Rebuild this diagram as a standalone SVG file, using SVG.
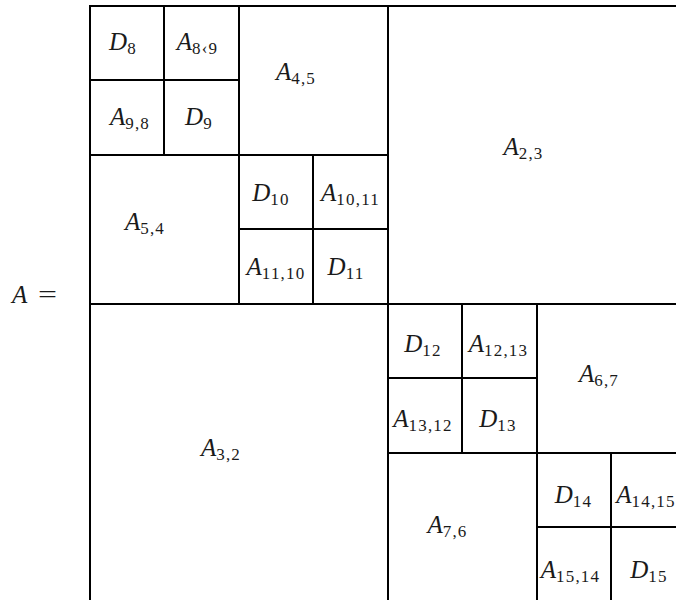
<svg xmlns="http://www.w3.org/2000/svg" width="676" height="600" viewBox="0 0 676 600">
<style>
rect.c{fill:none;stroke:#000;stroke-width:2}
text{font-family:'Liberation Serif','DejaVu Serif',serif;font-size:25px;fill:#1a1a1a;text-anchor:middle}
.m{font-style:italic}
.s{font-size:17px;font-style:normal;letter-spacing:1.2px}
</style>
<rect width="676" height="600" fill="#fff"/>
<g id="lhs" font-family="Liberation Serif, serif">
<text x="12" y="303" style="text-anchor:start" class="m">A</text>
<text x="38" y="303" style="text-anchor:start" textLength="19" lengthAdjust="spacingAndGlyphs">=</text>
</g>
<g font-family="Liberation Serif, serif">
<g id="A23"><rect class="c" x="388" y="6" width="298" height="298"/><text x="523.5" y="155"><tspan class="m">A</tspan><tspan class="s" dy="4">2,3</tspan></text></g>
<g id="A32"><rect class="c" x="90" y="304" width="298" height="298"/><text x="221" y="456"><tspan class="m">A</tspan><tspan class="s" dy="4">3,2</tspan></text></g>
<g id="A45"><rect class="c" x="239" y="6" width="149" height="149"/><text x="296" y="80"><tspan class="m">A</tspan><tspan class="s" dy="4">4,5</tspan></text></g>
<g id="A54"><rect class="c" x="90" y="155" width="149" height="149"/><text x="145" y="230"><tspan class="m">A</tspan><tspan class="s" dy="4">5,4</tspan></text></g>
<g id="A67"><rect class="c" x="537" y="304" width="149" height="149"/><text x="599" y="381.5"><tspan class="m">A</tspan><tspan class="s" dy="4">6,7</tspan></text></g>
<g id="A76"><rect class="c" x="388" y="453" width="149" height="149"/><text x="447.5" y="533"><tspan class="m">A</tspan><tspan class="s" dy="4">7,6</tspan></text></g>
<g id="D8"><rect class="c" x="90" y="6" width="74" height="74"/><text x="123" y="49.5"><tspan class="m">D</tspan><tspan class="s" dy="4">8</tspan></text></g>
<g id="A89"><rect class="c" x="164" y="6" width="75" height="74"/><text x="197.5" y="49.5"><tspan class="m">A</tspan><tspan class="s" dy="4">8‹9</tspan></text></g>
<g id="A98"><rect class="c" x="90" y="80" width="74" height="75"/><text x="130" y="125"><tspan class="m">A</tspan><tspan class="s" dy="4">9,8</tspan></text></g>
<g id="D9"><rect class="c" x="164" y="80" width="75" height="75"/><text x="199" y="125"><tspan class="m">D</tspan><tspan class="s" dy="4">9</tspan></text></g>
<g id="D10"><rect class="c" x="239" y="155" width="74" height="74"/><text x="271" y="200.5"><tspan class="m">D</tspan><tspan class="s" dy="4">10</tspan></text></g>
<g id="A1011"><rect class="c" x="313" y="155" width="75" height="74"/><text x="350.5" y="200.5"><tspan class="m">A</tspan><tspan class="s" dy="4">10,11</tspan></text></g>
<g id="A1110"><rect class="c" x="239" y="229" width="74" height="75"/><text x="276" y="275"><tspan class="m">A</tspan><tspan class="s" dy="4">11,10</tspan></text></g>
<g id="D11"><rect class="c" x="313" y="229" width="75" height="75"/><text x="346" y="275"><tspan class="m">D</tspan><tspan class="s" dy="4">11</tspan></text></g>
<g id="D12"><rect class="c" x="388" y="304" width="74" height="74"/><text x="423" y="351.5"><tspan class="m">D</tspan><tspan class="s" dy="4">12</tspan></text></g>
<g id="A1213"><rect class="c" x="462" y="304" width="75" height="74"/><text x="498.5" y="351.5"><tspan class="m">A</tspan><tspan class="s" dy="4">12,13</tspan></text></g>
<g id="A1312"><rect class="c" x="388" y="378" width="74" height="75"/><text x="423" y="426.5"><tspan class="m">A</tspan><tspan class="s" dy="4">13,12</tspan></text></g>
<g id="D13"><rect class="c" x="462" y="378" width="75" height="75"/><text x="498" y="426.5"><tspan class="m">D</tspan><tspan class="s" dy="4">13</tspan></text></g>
<g id="D14"><rect class="c" x="537" y="453" width="74" height="74"/><text x="573.5" y="503"><tspan class="m">D</tspan><tspan class="s" dy="4">14</tspan></text></g>
<g id="A1415"><rect class="c" x="611" y="453" width="75" height="74"/><text x="646" y="503"><tspan class="m">A</tspan><tspan class="s" dy="4">14,15</tspan></text></g>
<g id="A1514"><rect class="c" x="537" y="527" width="74" height="75"/><text x="570.5" y="578"><tspan class="m">A</tspan><tspan class="s" dy="4">15,14</tspan></text></g>
<g id="D15"><rect class="c" x="611" y="527" width="75" height="75"/><text x="649" y="578"><tspan class="m">D</tspan><tspan class="s" dy="4">15</tspan></text></g>
</g>
<g id="connectors"></g>
</svg>
